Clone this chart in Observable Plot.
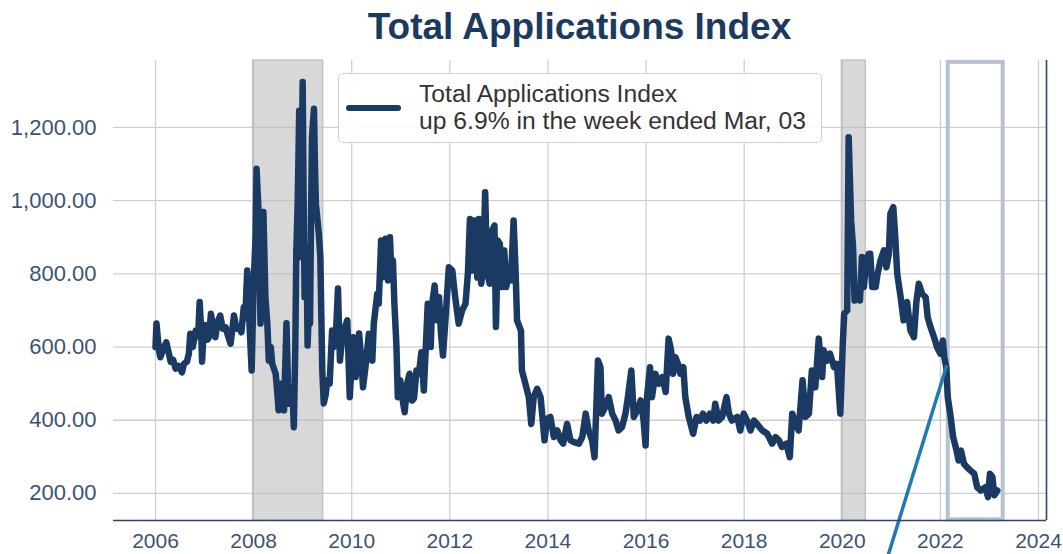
<!DOCTYPE html>
<html>
<head>
<meta charset="utf-8">
<script src="https://cdn.jsdelivr.net/npm/d3@7"></script>
<script src="https://cdn.jsdelivr.net/npm/@observablehq/plot@0.6"></script>
<style>
  body { margin: 0; background: #fff; font-family: "Liberation Sans", Arial, sans-serif; }
  #wrap { position: relative; width: 1063px; height: 554px; overflow: hidden; }
  #title { position: absolute; left: 113px; width: 933px; top: 0; height: 54px; text-align: center;
           font-weight: bold; font-size: 37px; line-height: 54px; color: #1b3a5f; }
  #chart { position: absolute; left: 0; top: 50px; }
  #legend { position: absolute; left: 338px; top: 73px; width: 482px; height: 68px;
            border: 1px solid #d2d2d2; border-radius: 5px; background: rgba(255,255,255,0.88); }
  #legend .sw { position: absolute; left: 7px; top: 31px; width: 55px; height: 6px; border-radius: 3px; background: #1a3a63; }
  #legend .tx { position: absolute; left: 80px; top: 6px; font-size: 24.7px; line-height: 27px; color: #333; white-space: nowrap; }
</style>
</head>
<body>
<div id="wrap">
  <div id="title"></div>
  <div id="chart"></div>
  <div id="legend"><div class="sw"></div><div class="tx"></div></div>
</div>
<script>
const titleText = "Total Applications Index";
const legendLines = ["Total Applications Index", "up 6.9% in the week ended Mar, 03"];

const xTicks = [2006, 2008, 2010, 2012, 2014, 2016, 2018, 2020, 2022, 2024];
const yTicks = [200, 400, 600, 800, 1000, 1200];
const xDomain = [2005.144, 2024.163];
const yDomain = [126, 1383];

const recessionStart = [2007.99, 2019.99];
const recessionEnd   = [2009.42, 2020.48];

const highlightX = [2022.16, 2023.28];
const highlightY = [128, 1378];

const arrowFrom = [2022.13, 550];
const arrowTo   = [2020.94, 33];

const weeks = [
2006.00,2006.02,2006.07,2006.10,2006.16,2006.22,2006.26,2006.31,2006.36,2006.41,2006.47,2006.54,2006.58,2006.64,2006.68,2006.71,2006.76,2006.82,2006.87,2006.90,2006.93,2006.95,2006.98,
2007.02,2007.06,2007.09,2007.13,2007.19,2007.22,2007.27,2007.32,2007.37,2007.43,2007.48,2007.53,2007.60,2007.65,2007.70,2007.75,2007.80,2007.83,2007.87,2007.90,2007.92,2007.96,
2008.00,2008.04,2008.06,2008.09,2008.11,2008.14,2008.18,2008.20,2008.24,2008.28,2008.31,2008.35,2008.38,2008.45,2008.48,2008.51,2008.55,2008.58,2008.62,2008.67,2008.70,2008.72,2008.76,2008.79,2008.82,2008.85,2008.87,2008.90,2008.93,2008.95,2008.98,
2009.00,2009.02,2009.04,2009.06,2009.08,2009.10,2009.12,2009.15,2009.17,2009.19,2009.23,2009.25,2009.27,2009.30,2009.33,2009.36,2009.40,2009.43,2009.47,2009.50,2009.55,2009.60,2009.63,2009.68,2009.72,2009.76,2009.80,2009.84,2009.91,2009.96,
2010.03,2010.08,2010.15,2010.20,2010.23,2010.28,2010.35,2010.42,2010.45,2010.52,2010.55,2010.60,2010.64,2010.69,2010.74,2010.78,2010.80,2010.84,2010.87,2010.91,2010.94,2010.99,
2011.05,2011.08,2011.13,2011.18,2011.23,2011.27,2011.32,2011.37,2011.42,2011.47,2011.55,2011.61,2011.64,2011.69,2011.74,2011.78,2011.82,2011.86,2011.91,2011.98,
2012.05,2012.11,2012.18,2012.25,2012.32,2012.37,2012.41,2012.45,2012.50,2012.56,2012.59,2012.64,2012.68,2012.72,2012.76,2012.81,2012.86,2012.91,2012.94,2012.98,
2013.02,2013.07,2013.11,2013.15,2013.20,2013.24,2013.27,2013.30,2013.34,2013.37,2013.45,2013.47,2013.54,2013.61,2013.66,2013.71,2013.78,2013.85,2013.90,2013.93,2013.98,
2014.05,2014.12,2014.19,2014.26,2014.31,2014.39,2014.46,2014.53,2014.63,2014.70,2014.77,2014.83,2014.90,2014.95,
2015.02,2015.07,2015.10,2015.17,2015.24,2015.31,2015.38,2015.44,2015.51,2015.58,2015.63,2015.70,2015.75,2015.82,2015.89,2015.95,2015.99,
2016.02,2016.08,2016.12,2016.19,2016.26,2016.33,2016.40,2016.46,2016.51,2016.55,2016.60,2016.65,2016.70,2016.76,2016.80,2016.87,2016.96,
2017.03,2017.10,2017.16,2017.23,2017.30,2017.37,2017.41,2017.48,2017.55,2017.64,2017.69,2017.75,2017.86,2017.92,2017.99,
2018.06,2018.13,2018.20,2018.26,2018.37,2018.47,2018.57,2018.64,2018.71,2018.77,2018.86,2018.93,2018.98,
2019.05,2019.11,2019.19,2019.25,2019.32,2019.38,2019.45,2019.52,2019.59,2019.62,2019.69,2019.75,2019.83,2019.89,2019.96,
2020.01,2020.04,2020.10,2020.13,2020.18,2020.22,2020.25,2020.30,2020.36,2020.40,2020.44,2020.49,2020.54,2020.57,2020.61,2020.68,2020.72,2020.78,2020.85,2020.90,2020.95,2020.98,
2021.04,2021.08,2021.12,2021.19,2021.25,2021.32,2021.39,2021.46,2021.51,2021.56,2021.63,2021.70,2021.74,2021.80,2021.87,2021.93,
2022.00,2022.05,2022.08,2022.12,2022.15,2022.20,2022.26,2022.33,2022.37,2022.42,2022.48,2022.54,2022.61,2022.69,2022.75,2022.82,2022.92,2022.97,
2023.01,2023.06,2023.10,2023.16
];

const appIndex = [
600,664,591,572,595,613,590,560,565,541,548,531,554,560,582,636,600,645,630,723,650,560,640,
660,620,627,691,640,627,670,686,650,654,630,609,686,650,654,640,709,680,809,720,650,536,
773,900,1087,1000,946,664,800,969,736,664,563,600,554,527,480,427,500,481,427,665,500,445,470,490,381,600,855,1000,1246,846,1100,
1324,1000,736,800,873,604,680,664,950,1173,1251,1100,991,950,909,846,536,446,470,509,500,645,600,640,760,563,620,645,673,463,
627,518,637,560,490,545,636,563,664,745,718,891,791,896,782,900,827,837,718,609,463,509,
445,422,500,527,454,460,536,527,586,481,718,600,718,768,673,736,636,577,673,818,
809,736,664,700,718,805,950,809,946,790,950,773,818,1023,809,773,918,932,655,891,
882,764,864,764,809,782,855,946,809,673,645,536,500,463,390,463,486,463,390,345,404,
409,354,372,345,336,390,345,340,336,354,418,372,345,299,
563,545,418,436,463,418,399,372,381,418,463,536,409,427,454,399,331,
463,545,463,527,500,518,477,623,591,527,572,554,527,545,463,409,363,
409,399,418,399,418,399,445,399,409,463,418,399,409,372,418,
399,372,399,390,372,363,336,354,345,327,336,299,418,
390,372,509,409,418,536,490,623,518,591,563,582,545,554,418,
609,691,700,1173,946,873,727,764,727,846,764,837,855,855,764,764,800,837,864,818,855,964,
982,900,800,736,673,723,645,627,723,773,745,736,682,654,627,600,
582,618,572,545,463,418,354,317,290,317,281,272,263,254,217,208,217,190,
254,245,195,208
];

const series = weeks.map((w, i) => ({week: w, value: appIndex[i]}));
const recessions = recessionStart.map((s, i) => ({start: s, end: recessionEnd[i]}));
const highlight = [{x1: highlightX[0], x2: highlightX[1], y1: highlightY[0], y2: highlightY[1]}];
const arrow = [{x1: arrowFrom[0], y1: arrowFrom[1], x2: arrowTo[0], y2: arrowTo[1]}];

document.getElementById("title").textContent = titleText;
document.querySelector("#legend .tx").innerHTML = legendLines.join("<br>");

const tickColor = "#3b5277";
const chart = Plot.plot({
  width: 1063,
  height: 504,
  marginLeft: 113,
  marginRight: 17,
  marginTop: 10,
  marginBottom: 34,
  style: {fontFamily: "'Liberation Sans', Arial, sans-serif", background: "transparent", overflow: "visible"},
  x: {domain: xDomain, label: null},
  y: {domain: yDomain, label: null},
  marks: [
    Plot.gridX(xTicks, {stroke: "#cfcfcf", strokeOpacity: 1, strokeWidth: 1.3}),
    Plot.gridY(yTicks, {stroke: "#cfcfcf", strokeOpacity: 1, strokeWidth: 1.3}),
    Plot.rect(recessions, {x1: "start", x2: "end", fill: "#b8b8b8", fillOpacity: 0.55, stroke: "#bdbdbd", strokeWidth: 1.2}),
    Plot.rect(highlight, {x1: "x1", x2: "x2", y1: "y1", y2: "y2", fill: "none", stroke: "#b7c1d1", strokeWidth: 4}),
    Plot.line(series, {x: "week", y: "value", stroke: "#1a3a63", strokeWidth: 6.5, strokeLinejoin: "round", strokeLinecap: "round"}),
    Plot.link(arrow, {x1: "x1", y1: "y1", x2: "x2", y2: "y2", stroke: "#2178b4", strokeWidth: 3.5}),
    Plot.ruleY([yDomain[0]], {stroke: "#2a4670", strokeWidth: 1.6}),
    Plot.ruleX([xDomain[1]], {stroke: "#2a4670", strokeWidth: 1.6}),
    Plot.axisX(xTicks, {tickSize: 0, tickPadding: 13, fontSize: 21, fill: tickColor, tickFormat: d => String(d), label: null}),
    Plot.axisY(yTicks, {tickSize: 0, tickPadding: 17, fontSize: 22, fill: tickColor, tickFormat: d3.format(",.2f"), label: null})
  ]
});
document.getElementById("chart").appendChild(chart);
</script>
</body>
</html>
